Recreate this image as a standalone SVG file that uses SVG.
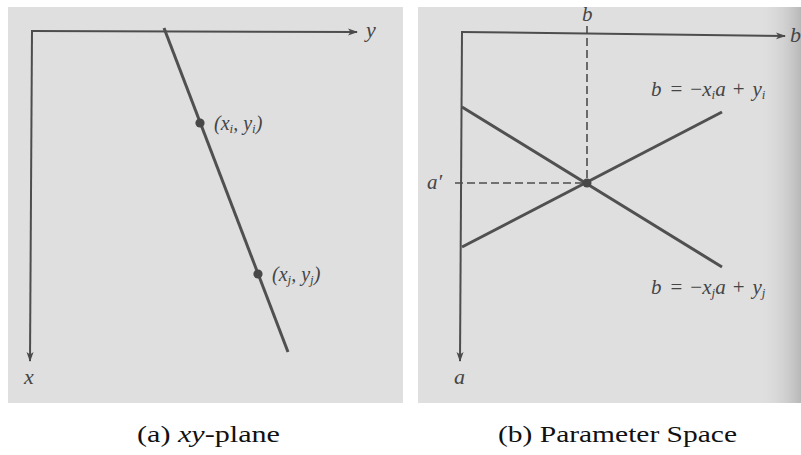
<svg xmlns="http://www.w3.org/2000/svg" width="801" height="455" viewBox="0 0 801 455">
  <defs>
    <marker id="arr" viewBox="0 0 10 8" refX="9" refY="4" markerWidth="10" markerHeight="8" markerUnits="userSpaceOnUse" orient="auto">
      <path d="M0,0.5 L10,4 L0,7.5 L2.5,4 Z" fill="#4a4a4a"/>
    </marker>
    <linearGradient id="edge" x1="0" y1="0" x2="1" y2="0">
      <stop offset="0" stop-color="#dcdcdc" stop-opacity="0"/>
      <stop offset="1" stop-color="#b8b8b8" stop-opacity="1"/>
    </linearGradient>
  </defs>
  <style>
    .panel { fill: #dfdfdf; }
    .axis { stroke: #4d4d4d; stroke-width: 2; fill: none; }
    .line { stroke: #505050; stroke-width: 3; fill: none; }
    .dash { stroke: #4d4d4d; stroke-width: 1.6; stroke-dasharray: 8 4; fill: none; }
    .dot { fill: #484848; }
  </style>
  <rect width="801" height="455" fill="#ffffff"/>

  <g id="panel-a">
    <rect class="panel" x="8" y="7" width="395" height="396"/>
    <g id="axes-a">
      <line class="axis" x1="31" y1="31" x2="357" y2="32" marker-end="url(#arr)"/>
      <line class="axis" x1="32" y1="30" x2="30" y2="361" marker-end="url(#arr)"/>
    </g>
    <g id="axis-labels-a" font-family="Liberation Serif" font-style="italic" fill="#454545" font-size="22">
      <text x="366" y="37">y</text>
      <text x="24" y="384">x</text>
    </g>
    <g id="line-a">
      <line class="line" x1="164" y1="28" x2="288" y2="352"/>
    </g>
    <g id="point-i">
      <circle class="dot" cx="200" cy="123" r="4.6"/>
      <text x="214" y="130" font-size="20" font-family="Liberation Serif" font-style="italic" fill="#454545">(x<tspan font-size="13" dy="3">i</tspan><tspan dy="-3">, y</tspan><tspan font-size="13" dy="3">i</tspan><tspan dy="-3">)</tspan></text>
    </g>
    <g id="point-j">
      <circle class="dot" cx="258" cy="274" r="4.6"/>
      <text x="272" y="281" font-size="20" font-family="Liberation Serif" font-style="italic" fill="#454545">(x<tspan font-size="13" dy="3">j</tspan><tspan dy="-3">, y</tspan><tspan font-size="13" dy="3">j</tspan><tspan dy="-3">)</tspan></text>
    </g>
  </g>

  <g id="panel-b">
    <rect class="panel" x="418" y="7" width="383" height="396"/>
    <rect x="760" y="7" width="41" height="396" fill="url(#edge)"/>
    <g id="axes-b">
      <line class="axis" x1="461" y1="32" x2="785" y2="36" marker-end="url(#arr)"/>
      <line class="axis" x1="462" y1="31" x2="460" y2="361" marker-end="url(#arr)"/>
    </g>
    <g id="connectors">
      <line class="dash" x1="587" y1="26" x2="587" y2="183"/>
      <line class="dash" x1="455" y1="183" x2="587" y2="183"/>
      <line class="line" x1="462" y1="107" x2="722" y2="267"/>
      <line class="line" x1="462" y1="247" x2="722" y2="112"/>
    </g>
    <g id="intersection">
      <circle class="dot" cx="587" cy="183" r="4.5"/>
    </g>
    <g id="labels-b" font-family="Liberation Serif" font-style="italic" fill="#454545">
      <text x="790" y="42" font-size="22">b</text>
      <text x="454" y="384" font-size="22">a</text>
      <text x="582" y="21" font-size="21">b</text>
      <text x="427" y="189" font-size="21">a′</text>
      <text x="651" y="96" font-size="21">b<tspan dx="9" font-style="normal">=</tspan><tspan dx="8" font-style="normal">−</tspan>x<tspan font-size="13" dy="3">i</tspan><tspan dy="-3">a</tspan><tspan dx="7" font-style="normal">+</tspan><tspan dx="8">y</tspan><tspan font-size="13" dy="3">i</tspan></text>
      <text x="651" y="294" font-size="21">b<tspan dx="9" font-style="normal">=</tspan><tspan dx="8" font-style="normal">−</tspan>x<tspan font-size="13" dy="3">j</tspan><tspan dy="-3">a</tspan><tspan dx="7" font-style="normal">+</tspan><tspan dx="8">y</tspan><tspan font-size="13" dy="3">j</tspan></text>
    </g>
  </g>

  <g id="captions" font-family="Liberation Serif" fill="#111111" font-size="24">
    <text x="137" y="442" textLength="143" lengthAdjust="spacingAndGlyphs">(a)<tspan dx="6" font-style="italic">xy</tspan>-plane</text>
    <text x="498" y="442" textLength="239" lengthAdjust="spacingAndGlyphs">(b)<tspan dx="6">Parameter</tspan><tspan dx="6">Space</tspan></text>
  </g>
</svg>
